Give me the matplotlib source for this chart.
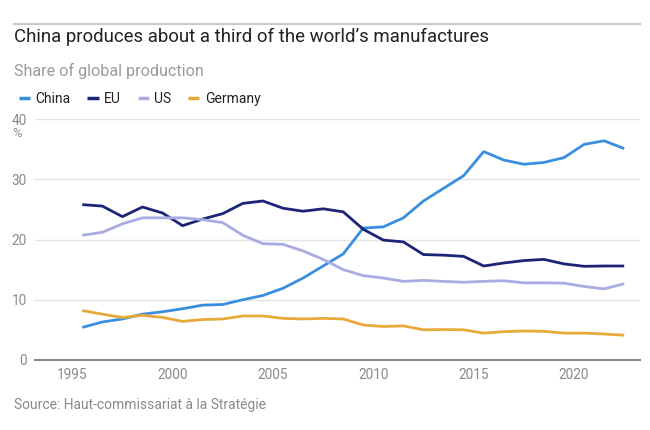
import numpy as np
import matplotlib
matplotlib.use("Agg")
import matplotlib.pyplot as plt

# share of global manufacturing production, %
years = np.arange(1995, 2023)
china = [5.4, 6.3, 6.8, 7.6, 8.0, 8.5, 9.1, 9.2, 10.0, 10.7,
         11.9, 13.6, 15.6, 17.6, 21.9, 22.1, 23.6, 26.4, 28.5, 30.6,
         34.6, 33.2, 32.5, 32.8, 33.6, 35.8, 36.4, 35.1]
eu = [25.8, 25.55, 23.8, 25.4, 24.4, 22.3, 23.4, 24.3, 26.0, 26.4,
      25.2, 24.7, 25.1, 24.6, 21.7, 19.9, 19.6, 17.5, 17.4, 17.2,
      15.6, 16.1, 16.5, 16.7, 15.95, 15.55, 15.6, 15.6]
us = [20.7, 21.2, 22.6, 23.6, 23.6, 23.6, 23.3, 22.8, 20.7, 19.3,
      19.2, 18.1, 16.7, 15.0, 14.0, 13.6, 13.05, 13.2, 13.05, 12.9,
      13.05, 13.15, 12.8, 12.8, 12.75, 12.2, 11.8, 12.65]
germany = [8.2, 7.6, 7.05, 7.4, 7.05, 6.4, 6.7, 6.8, 7.3, 7.3,
           6.9, 6.8, 6.9, 6.8, 5.8, 5.55, 5.65, 5.0, 5.05, 5.0,
           4.45, 4.7, 4.8, 4.75, 4.45, 4.45, 4.3, 4.1]

labels = ["China", "EU", "US", "Germany"]
colors = ["#3a8ee0", "#1c2478", "#a9abe3", "#e8a93a"]

plt.rcParams['font.family'] = ['Roboto', 'DejaVu Sans']

fig = plt.figure(figsize=(6.5, 4.3), dpi=100)
ax = fig.add_axes([0.054, 0.163, 0.931, 0.560])

x = years + 0.5
for series, lab, col in zip([china, eu, us, germany], labels, colors):
    ax.plot(x, series, color=col, lw=2.0, label=lab, solid_capstyle='butt')

ax.set_xlim(1993.15, 2023.3)
ax.set_ylim(0, 40)
ax.set_yticks([0, 10, 20, 30, 40])
ax.set_xticks([1995, 2000, 2005, 2010, 2015, 2020])
ax.grid(axis='y', color='#e4e4e4', lw=1)
ax.set_axisbelow(True)
for s in ['top', 'right', 'left']:
    ax.spines[s].set_visible(False)
ax.spines['bottom'].set_color('#8a8a8a')
ax.spines['bottom'].set_linewidth(1.5)
ax.tick_params(length=0, labelsize=9.8, labelcolor='#8a8a8a')
ax.tick_params(axis='y', pad=6)
ax.tick_params(axis='x', pad=6)

ax.text(-0.022, 0.94, "%", transform=ax.transAxes, ha='right', va='center',
        fontsize=9.5, color='#8a8a8a')

# header
fig.add_artist(plt.Line2D([0.022, 0.985], [0.945, 0.945], color='#c8c8c8', lw=1.5,
                          transform=fig.transFigure))
fig.text(0.022, 0.915, "China produces about a third of the world\u2019s manufactures",
         fontsize=13.4, color='#222222', va='center')
fig.text(0.022, 0.835, "Share of global production", fontsize=11.6,
         color='#9a9a9a', va='center')

leg = fig.legend(loc='center left', bbox_to_anchor=(0.01, 0.77), ncol=4, frameon=False,
                 handlelength=0.8, handletextpad=0.4, columnspacing=1.2, fontsize=10,
                 labelcolor='#222222')
for h in leg.get_lines():
    h.set_linewidth(2.5)

fig.text(0.022, 0.058, "Source: Haut-commissariat \u00e0 la Strat\u00e9gie", fontsize=10,
         color='#8a8a8a', va='center')

fig.savefig("out.png", dpi=100)
